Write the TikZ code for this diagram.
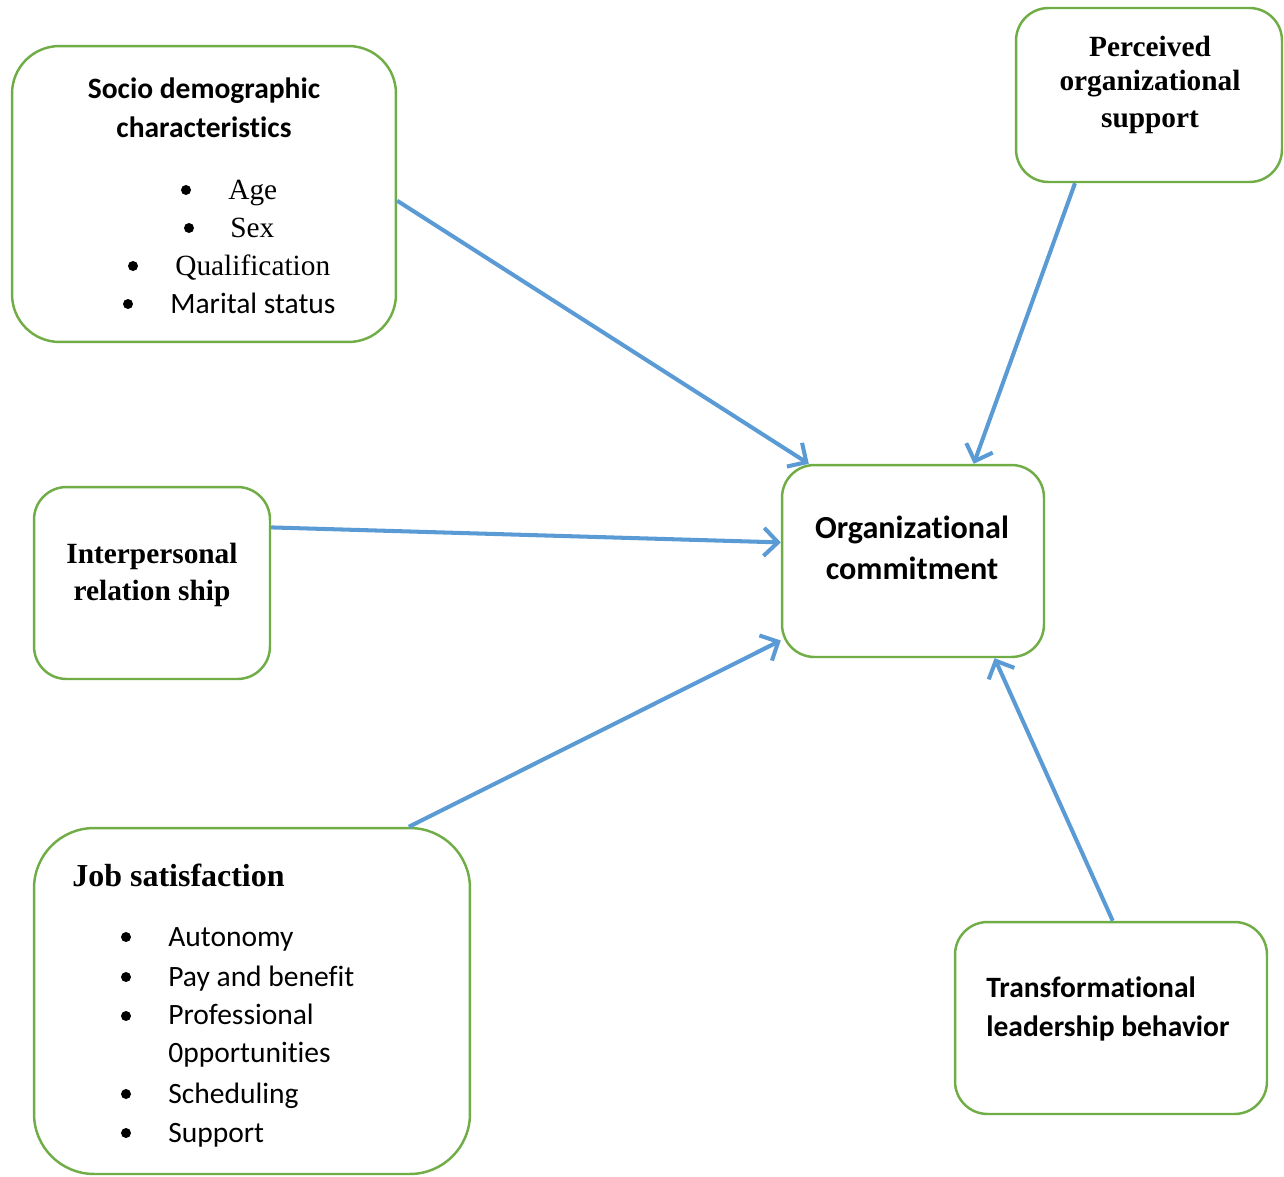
\documentclass[tikz,border=0pt]{standalone}
\usepackage{fontspec}
\usepackage{tikz}
\usetikzlibrary{arrows.meta}
\setmainfont{Liberation Serif}
\newfontfamily\calibri[Ligatures=NoCommon]{Carlito}
\definecolor{boxgreen}{HTML}{70AD47}
\definecolor{arrowblue}{HTML}{5B9BD5}

\begin{document}
\begin{tikzpicture}[x=0.02cm,y=-0.02cm,
	box/.style={draw=boxgreen,line width=1.4pt,inner sep=0pt,rounded corners=0.65cm},
	flow/.style={draw=arrowblue,line width=2.3pt,->},
	>={Straight Barb[length=8pt,width=16pt]},
	cal/.style={font=\calibri\fontsize{16.8}{20}\selectfont\bfseries},
	tms/.style={font=\fontsize{16.7}{20}\selectfont\bfseries},
	item/.style={inner sep=0pt,anchor=base west,font=\calibri\fontsize{16.8}{20}\selectfont},
	titem/.style={inner sep=0pt,anchor=base west,font=\fontsize{16.7}{20}\selectfont},
	dot/.style={circle,fill=black,inner sep=0pt,minimum size=0.2cm}]
	\useasboundingbox (0,0) rectangle (1284,1176);

	% boxes
	\node[box,rounded corners=0.95cm,minimum width=7.68cm,minimum height=5.92cm] (socio) at (204,194) {};
	\node[box,minimum width=5.32cm,minimum height=3.48cm] (perceived) at (1149,95) {};
	\node[box,minimum width=5.24cm,minimum height=3.84cm] (org-commit) at (913,561) {};
	\node[box,minimum width=4.72cm,minimum height=3.84cm] (interpersonal) at (152,583) {};
	\node[box,rounded corners=1.2cm,minimum width=8.72cm,minimum height=6.92cm] (job) at (252,1001) {};
	\node[box,minimum width=6.24cm,minimum height=3.84cm] (leadership) at (1111,1018) {};

	% socio demographic
	\node[cal,inner sep=0pt,anchor=base] (socio-title1) at (204,99) {Socio demographic};
	\node[cal,inner sep=0pt,anchor=base] (socio-title2) at (204,137) {characteristics};
	\node[dot] (dot-age) at (186,190) {};
	\node[titem] (age) at (228,199) {Age};
	\node[dot] (dot-sex) at (189,228) {};
	\node[titem] (sex) at (230,237) {Sex};
	\node[dot] (dot-qual) at (133,266) {};
	\node[titem] (qual) at (175,275) {Qualification};
	\node[dot] (dot-marital) at (128,304) {};
	\node[item] (marital) at (170,313) {Marital status};

	% perceived support
	\node[tms,inner sep=0pt,anchor=base] (perceived1) at (1150,57) {Perceived};
	\node[tms,inner sep=0pt,anchor=base] (perceived2) at (1150,91) {organizational};
	\node[tms,inner sep=0pt,anchor=base] (perceived3) at (1150,128) {support};

	% commitment
	\node[cal,inner sep=0pt,anchor=base,font=\calibri\fontsize{18.3}{20}\selectfont\bfseries] (commit1) at (912,538) {Organizational};
	\node[cal,inner sep=0pt,anchor=base,font=\calibri\fontsize{18.3}{20}\selectfont\bfseries] (commit2) at (912,579) {commitment};

	% interpersonal
	\node[tms,inner sep=0pt,anchor=base] (inter1) at (152,563) {Interpersonal};
	\node[tms,inner sep=0pt,anchor=base] (inter2) at (152,600) {relation ship};

	% job satisfaction
	\node[tms,inner sep=0pt,anchor=base west,font=\fontsize{18.2}{20}\selectfont\bfseries] (job-title) at (72,886) {Job satisfaction};
	\node[dot] (dot-auto) at (126,937) {};
	\node[item] (auto) at (168,946) {Autonomy};
	\node[dot] (dot-pay) at (126,977) {};
	\node[item] (pay) at (168,986) {Pay and benefit};
	\node[dot] (dot-prof) at (126,1016) {};
	\node[item] (prof) at (168,1024) {Professional};
	\node[item] (opp) at (168,1062) {0pportunities};
	\node[dot] (dot-sched) at (126,1094) {};
	\node[item] (sched) at (168,1103) {Scheduling};
	\node[dot] (dot-supp) at (126,1133) {};
	\node[item] (supp) at (168,1142) {Support};

	% leadership
	\node[cal,inner sep=0pt,anchor=base west] (lead1) at (986,997) {Transformational};
	\node[cal,inner sep=0pt,anchor=base west] (lead2) at (986,1036) {leadership behavior};

	% arrows
	\draw[flow] (socio.358) -- (org-commit.137);
	\draw[flow] (perceived.230) -- (org-commit.58);
	\draw[flow] (interpersonal.25) -- (org-commit.172);
	\draw[flow] (job.48) -- (org-commit.211);
	\draw[flow] (leadership.89) -- (org-commit.310);
\end{tikzpicture}
\end{document}
